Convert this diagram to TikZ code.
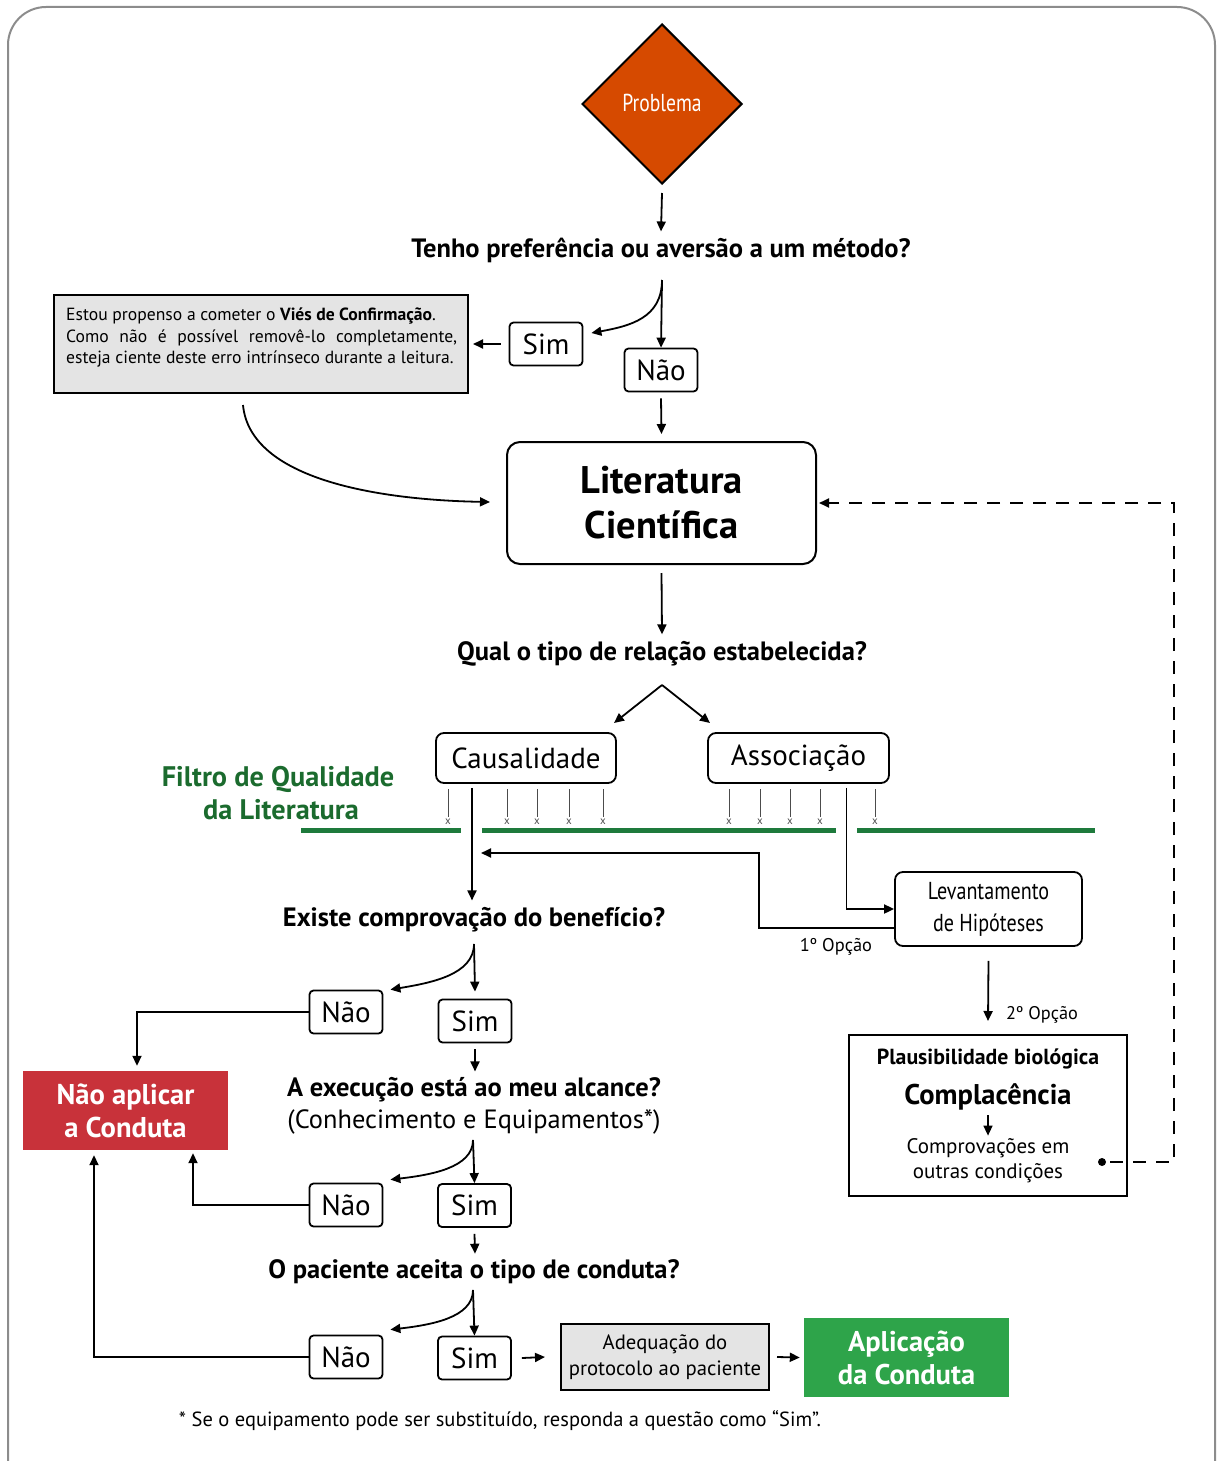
\documentclass[tikz,border=0pt]{standalone}
\usepackage{fontspec}
\usepackage{graphicx}
\setmainfont{PT Sans}
\usetikzlibrary{arrows.meta,shapes.geometric,calc}
\definecolor{orangeP}{HTML}{D64A00}
\definecolor{redN}{HTML}{C8323A}
\definecolor{greenA}{HTML}{2EA44A}
\definecolor{greenF}{HTML}{1B6B2E}
\definecolor{greenL}{HTML}{1E7A3C}
\definecolor{grayB}{HTML}{E4E4E4}
\definecolor{frameG}{HTML}{8C8C8C}
\begin{document}
\begin{tikzpicture}[x=1pt,y=-1pt,
  arr/.style={-{Triangle[length=10pt,width=9pt]}, line width=1.8pt},
  ansbox/.style={draw, line width=1.8pt, rounded corners=4pt, minimum width=73pt, minimum height=43pt, inner sep=0pt, font=\fontsize{29}{30}\selectfont},
  relbox/.style={draw, line width=1.8pt, rounded corners=8pt, minimum height=50pt, inner sep=0pt, font=\fontsize{29}{31}\selectfont},
  quest/.style={font=\bfseries\fontsize{26.5}{30}\selectfont, inner sep=0pt},
  filt/.style={line width=0.8pt, draw=black!70},
  xm/.style={font=\fontsize{11}{11}\selectfont, inner sep=0pt, text=black!70},
  gline/.style={line width=5pt, draw=greenL}
]
\useasboundingbox (0,0) rectangle (1217,1461);
\begin{scope}
\clip (0,0) rectangle (1217,1461);
\draw[frameG, line width=2pt, rounded corners=38pt] (8,1500) -- (8,7) -- (1215,7) -- (1215,1500);
\end{scope}

% Problema
\node[diamond, draw, line width=2pt, fill=orangeP, minimum width=160pt, minimum height=160pt, inner sep=0pt, aspect=1] (prob) at (662,104) {};
\node[text=white, font=\fontsize{24.5}{26}\selectfont] (probt) at (662,103) {\scalebox{0.8}[1]{Problema}};
\node[quest] (q1) at (661,250) {Tenho preferência ou aversão a um método?};
\draw[arr] ($(prob.south)+(0,8)$) -- ($(q1.north)+(0,-6)$);

% Sim / Nao 1
\node[ansbox] (sim1) at (546,344) {Sim};
\node[ansbox] (nao1) at (661,370) {Não};
\coordinate (b1) at (662,280);
\draw[arr] (b1) -- (nao1.north);
\draw[arr] (b1) .. controls (662,318) and (630,326) .. ($(sim1.east)+(8,-11)$);

% Vies box
\node[draw, line width=2pt, fill=grayB, minimum width=414pt, minimum height=98pt, inner sep=0pt] (vies) at (261,344) {};
\node[anchor=north west, inner sep=0pt, font=\fontsize{17.6}{21.5}\selectfont, align=left] (viest) at (66,308)
 {Estou propenso a cometer o \textbf{Viés de Confirmação}.\\
  \makebox[391pt][s]{Como não é possível removê-lo completamente,}\\
  esteja ciente deste erro intrínseco durante a leitura.};
\draw[arr] ($(sim1.west)+(-8,0)$) -- ($(vies.east)+(4,0)$);

% Literatura
\node[draw, line width=2pt, rounded corners=13pt, minimum width=309pt, minimum height=122pt, align=center, inner sep=0pt,
  font=\bfseries\fontsize{38.5}{45}\selectfont] (lit) at (661.5,503) {Literatura\\Científica};
\draw[arr] ($(nao1.south)+(0,6)$) -- ($(lit.north)+(0,-7)$);
\coordinate (c1) at (243,405);
\draw[arr] (c1) .. controls (250,480) and (380,500) .. ($(lit.west)+(-16,-1)$);

% dashed return
\fill (1102,1162) circle (4pt);
\coordinate (d0) at (1102,1162);
\draw[line width=1.8pt, dash pattern=on 13pt off 10pt, -{Triangle[length=10pt,width=9pt]}] ($(d0)+(8,0)$) -- (1174,1162) -- (1174,503) -- ($(lit.east)+(2,0)$);

% question 2
\node[quest] (q2) at (662,654) {Qual o tipo de relação estabelecida?};
\draw[arr] ($(lit.south)+(0,8)$) -- ($(q2.north)+(0,-7)$);
\coordinate (b2) at (662,685);
\node[relbox, minimum width=180pt] (caus) at (526,758) {Causalidade};
\node[relbox, minimum width=181pt] (assoc) at (798.5,758) {Associação};
\draw[arr] (b2) -- (614,723);
\draw[arr] (b2) -- (710,723);

% filter
\node[align=center, text=greenF, font=\bfseries\fontsize{28.3}{33}\selectfont, inner sep=0pt] (filtro) at (278,793) {Filtro de Qualidade\\\hspace*{6pt}da Literatura};
\draw[gline] (301,830) -- (461,830);
\draw[gline] (482,830) -- (836,830);
\draw[gline] (857,830) -- (1095,830);
\foreach \xx in {448,507,537,569,603,729,760,790,820,875}{
  \draw[filt] (\xx,789) -- (\xx,817);
  \node[xm] at (\xx,822) {x};
}

% Levantamento
\node[draw, line width=1.8pt, rounded corners=8pt, minimum width=187pt, minimum height=74pt, align=center, inner sep=0pt,
  font=\fontsize{24.5}{32}\selectfont] (lev) at (988.5,909) {\scalebox{0.82}[1]{Levantamento}\\\scalebox{0.82}[1]{de Hipóteses}};
\draw[arr] ($(assoc.south)+(48,4)$) |- (lev.west |- 0,909);
\node[quest] (q3) at (474,920) {Existe comprovação do benefício?};
\draw[arr] ($(caus.south)+(-54,4)$) -- ($(q3.north)+(-2,-7)$);
\draw[arr] (lev.west |- 0,928) -- (759,928) -- (759,853) -- (481,853);
\node[font=\fontsize{18.4}{20}\selectfont, inner sep=0pt] (op1) at (836,947) {1º Opção};

% Plausibilidade
\node[draw, line width=2pt, minimum width=278pt, minimum height=161pt, inner sep=0pt] (plaus) at (988,1115.5) {};
\draw[arr] ($(lev.south)+(0,14)$) -- ($(plaus.north)+(0,-13)$);
\node[font=\fontsize{18.3}{20}\selectfont, inner sep=0pt, anchor=west] (op2) at (1006,1015) {2º Opção};
\node[font=\bfseries\fontsize{21.8}{24}\selectfont, inner sep=0pt] (plb) at (988,1059) {Plausibilidade biológica};
\node[font=\bfseries\fontsize{28.5}{30}\selectfont, inner sep=0pt] (comp) at (988,1097) {Complacência};
\node[font=\fontsize{21}{25}\selectfont, align=center, inner sep=0pt] (compr) at (988,1161) {Comprovações em\\outras condições};
\draw[arr, line width=1.5pt] ($(comp.south)+(0,5)$) -- ($(compr.north)+(0,-3)$);

% Question 3 branches
\coordinate (b3) at (474,944);
\node[ansbox] (nao2) at (346,1012) {Não};
\node[ansbox] (sim2) at (475,1021) {Sim};
\draw[arr] (b3) -- ($(sim2.north)+(0,-7)$);
\draw[arr] (b3) .. controls (474,975) and (430,983) .. ($(nao2.north east)+(7,0)$);
\node[fill=redN, minimum width=205pt, minimum height=79pt, align=center, inner sep=0pt, text=white,
  font=\bfseries\fontsize{28.6}{33}\selectfont] (naoap) at (125.5,1110.5) {Não aplicar\\a Conduta};
\draw[arr] (nao2.west) -| ($(naoap.north)+(11.5,-5)$);

% Question 4
\node[quest] (q4) at (474,1090) {A execução está ao meu alcance?};
\node[font=\fontsize{26.4}{30}\selectfont, inner sep=0pt] (q4b) at (474,1122) {(Conhecimento e Equipamentos*)};
\draw[arr] ($(sim2.south)+(0,6)$) -- ($(q4.north)+(1,-6)$);
\coordinate (b4) at (473,1140);
\node[ansbox] (nao3) at (346,1205) {Não};
\node[ansbox] (sim3) at (474.5,1205.5) {Sim};
\draw[arr] (b4) -- (sim3.north);
\draw[arr] (b4) .. controls (473,1168) and (430,1175) .. ($(nao3.north east)+(7,-3)$);
\draw[arr] (nao3.west) -| ($(naoap.south)+(67.5,3)$);

% Question 5
\node[quest] (q5) at (474,1272) {O paciente aceita o tipo de conduta?};
\draw[arr] ($(sim3.south)+(0,6)$) -- ($(q5.north)+(1,-6)$);
\coordinate (b5) at (473,1290);
\node[ansbox] (nao4) at (346,1357) {Não};
\node[ansbox] (sim4) at (474.5,1358) {Sim};
\draw[arr] (b5) -- (sim4.north);
\draw[arr] (b5) .. controls (473,1318) and (430,1325) .. ($(nao4.north east)+(7,-5)$);
\draw[arr] (nao4.west) -| ($(naoap.south)+(-31.5,5)$);

% Adequacao and Aplicacao
\node[draw, line width=2pt, fill=grayB, minimum width=208pt, minimum height=66pt, align=center, inner sep=0pt,
  font=\fontsize{20.7}{26}\selectfont] (adeq) at (665,1357) {Adequação do\\protocolo ao paciente};
\node[fill=greenA, minimum width=205pt, minimum height=79pt, align=center, inner sep=0pt, text=white,
  font=\bfseries\fontsize{28.5}{33}\selectfont] (aplic) at (906.5,1357.5) {Aplicação\\da Conduta};
\draw[arr] ($(sim4.east)+(10,0)$) -- ($(adeq.west)+(-15,0)$);
\draw[arr] ($(adeq.east)+(7,0)$) -- ($(aplic.west)+(-4,0)$);

\node[font=\fontsize{20.5}{22}\selectfont, inner sep=0pt] (foot) at (500,1421) {* Se o equipamento pode ser substituído, responda a questão como “Sim”.};
\end{tikzpicture}
\end{document}
